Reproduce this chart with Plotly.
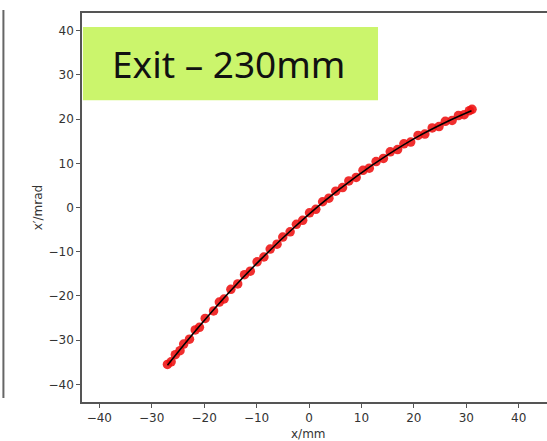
import plotly.graph_objects as go

# Measured phase-space points at the exit plane
x_mm = [-27.0, -26.3, -25.5, -24.6, -23.9, -22.8, -21.7, -20.9, -19.8, -18.2,
        -17.1, -16.2, -14.9, -13.6, -12.3, -11.2, -9.9, -8.6, -7.4, -6.1,
        -5.0, -3.6, -2.4, -1.2, 0.1, 1.3, 2.6, 3.8, 5.1, 6.4,
        7.6, 9.0, 10.3, 11.5, 12.8, 14.2, 15.5, 16.9, 18.1, 19.4,
        20.8, 22.1, 23.5, 24.8, 26.0, 27.3, 28.5, 29.6, 30.6, 31.1]
xp_mrad = [-35.5, -34.9, -33.3, -32.4, -30.9, -29.8, -27.7, -27.1, -25.1, -23.4,
           -21.4, -20.7, -18.5, -17.3, -15.2, -14.4, -12.3, -11.2, -9.4, -8.3,
           -6.7, -5.5, -3.8, -2.9, -1.2, -0.4, 1.3, 2.1, 3.7, 4.5,
           6.0, 6.8, 8.4, 8.9, 10.4, 11.1, 12.6, 13.1, 14.4, 14.8,
           16.3, 16.6, 18.0, 18.3, 19.5, 19.7, 20.8, 21.0, 21.9, 22.2]

# Fitted curve through the points
fit_x = [-27.0, -21.0, -15.0, -9.0, -3.0, 3.0, 9.0, 15.0, 21.0, 27.0, 31.0]
fit_y = [-35.7, -27.0, -18.9, -11.5, -4.7, 1.5, 7.0, 11.9, 16.2, 19.8, 21.9]

x_ticks = [-40, -30, -20, -10, 0, 10, 20, 30, 40]
y_ticks = [-40, -30, -20, -10, 0, 10, 20, 30, 40]

fig = go.Figure()
fig.add_trace(go.Scatter(
    x=x_mm, y=xp_mrad, mode="markers",
    marker=dict(color="#ee1111", size=9.5, opacity=0.88, line=dict(width=0)),
    showlegend=False, hoverinfo="skip"))
fig.add_trace(go.Scatter(
    x=fit_x, y=fit_y, mode="lines", line=dict(color="black", width=1.6, shape="spline"),
    showlegend=False, hoverinfo="skip"))

axis_common = dict(
    ticks="outside", ticklen=4, tickwidth=1, tickcolor="#555",
    showgrid=False, zeroline=False, showline=True, linecolor="#555", linewidth=1.5,
    tickfont=dict(family="DejaVu Sans", size=12, color="#333"),
    automargin=False,
)

fig.update_layout(
    width=547, height=441,
    margin=dict(l=82, r=0, t=13, b=39),
    paper_bgcolor="white", plot_bgcolor="white",
    xaxis=dict(range=[-43.3, 45.4], tickvals=x_ticks, mirror=True, **axis_common),
    yaxis=dict(range=[-44, 44], tickvals=y_ticks, **axis_common),
    shapes=[
        dict(type="rect", xref="paper", yref="paper", x0=0.002, x1=0.6366, y0=0.776, y1=0.964,
             fillcolor="#cbf56c", line=dict(width=0), layer="above"),
        dict(type="line", xref="paper", yref="paper", x0=-0.169, x1=-0.169, y0=0.01, y1=1.008,
             line=dict(color="#666", width=2)),
    ],
    annotations=[
        dict(text="Exit \u2013 230mm", xref="paper", yref="paper", x=0.316, y=0.871,
             showarrow=False, xanchor="center", yanchor="middle",
             font=dict(family="Noto Sans", size=37, color="#111")),
        # axis titles
        dict(text="x/mm", xref="paper", yref="paper", x=0.488, y=-0.081,
             showarrow=False, xanchor="center", yanchor="middle",
             font=dict(family="DejaVu Sans", size=12, color="#333")),
        dict(text="x\u2032/mrad", xref="paper", yref="paper", x=-0.095, y=0.5,
             showarrow=False, xanchor="center", yanchor="middle", textangle=-90,
             font=dict(family="DejaVu Sans", size=12, color="#333")),
    ],
)

fig.write_html("out.html")
